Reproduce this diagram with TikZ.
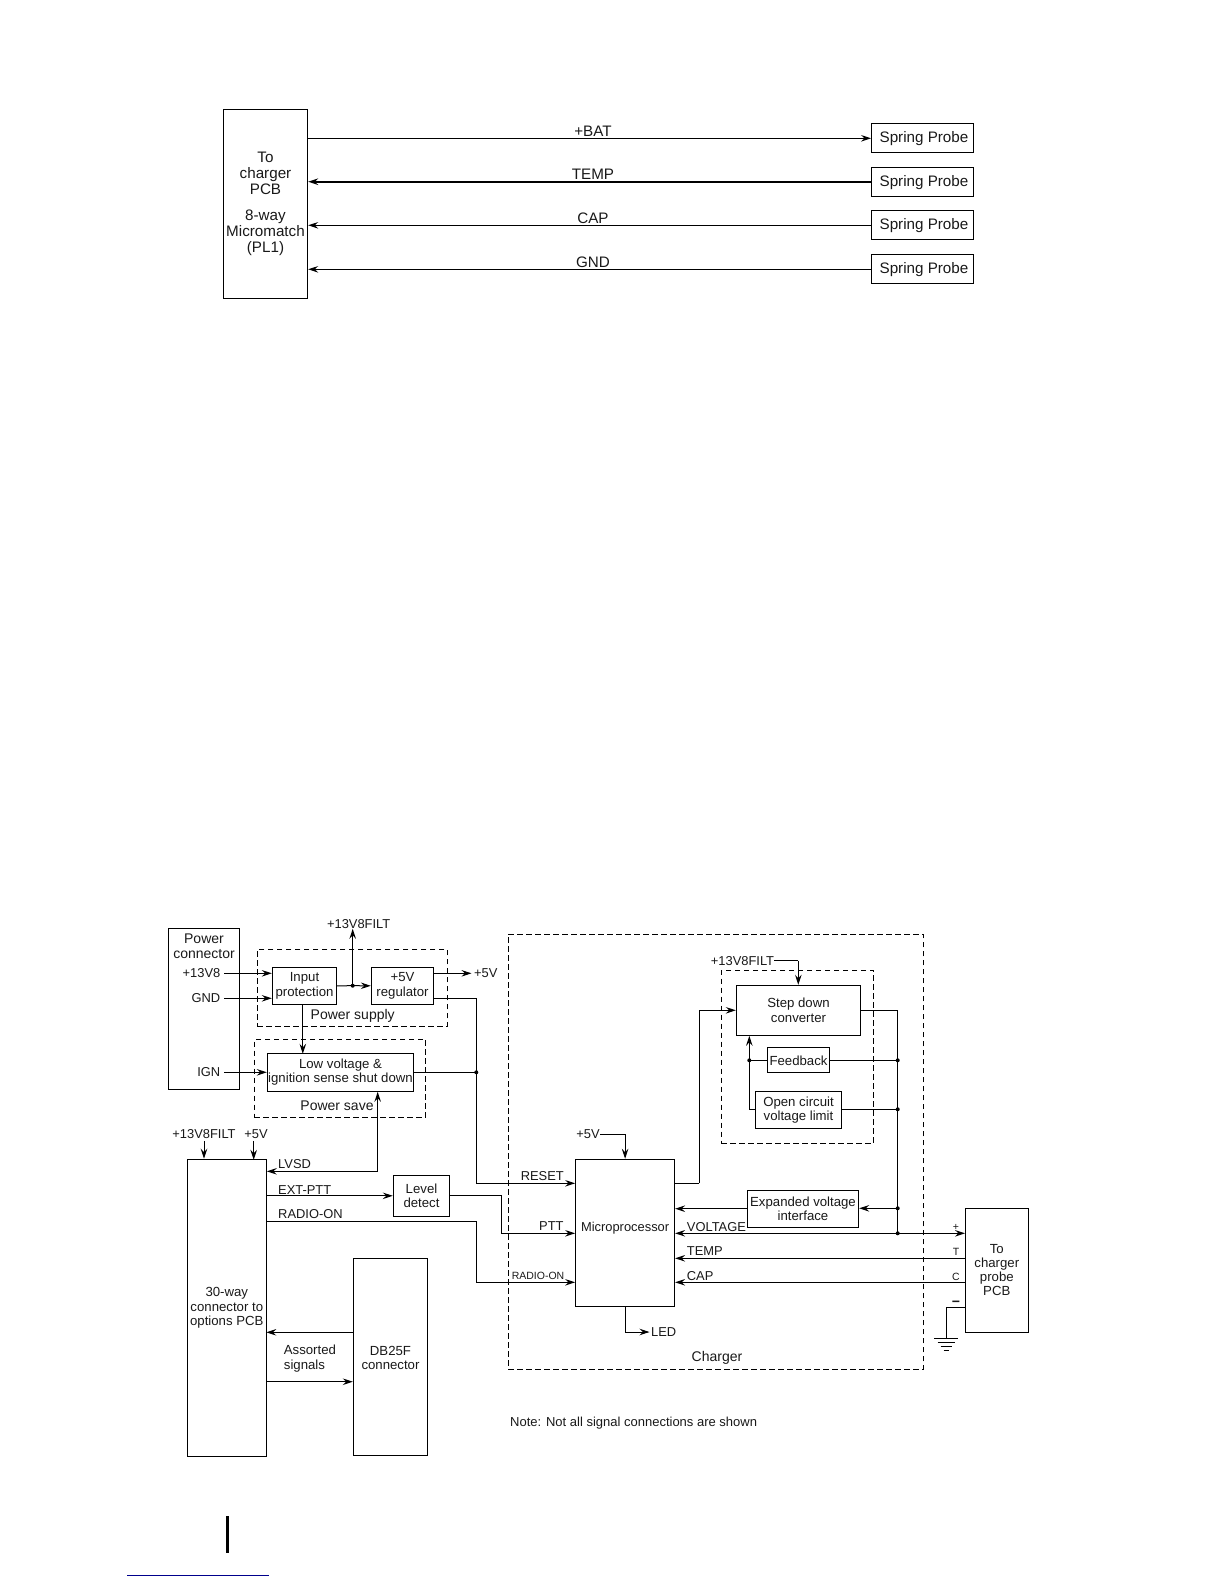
\documentclass[tikz,border=0pt]{standalone}
\usepackage{fontspec}
\setmainfont{Liberation Sans}
\usepackage{tikz}
\usetikzlibrary{arrows.meta}

\begin{document}
\begin{tikzpicture}[
        x=1pt, y=-1pt,
        every node/.style={font=\fontsize{13.2}{14.2}\selectfont, text=black!90},
        box/.style={rectangle, draw, line width=1pt, inner sep=0pt, align=center},
        frame/.style={rectangle, draw, line width=0.9pt, dash pattern=on 5.5pt off 3.5pt},
        lbl/.style={inner sep=0pt, text height=9.2pt, text depth=0pt, font=\fontsize{12.9}{14}\selectfont},
        bigtxt/.style={font=\fontsize{15.2}{16}\selectfont},
        midtxt/.style={font=\fontsize{14}{15}\selectfont},
        smalltxt/.style={font=\fontsize{10.5}{11}\selectfont},
        probe/.style={box, bigtxt, minimum width=101.6pt, minimum height=29pt, text height=11.5pt, text depth=2.5pt, execute at begin node=\hspace*{3pt}},
        dot/.style={circle, fill, inner sep=0pt, minimum size=4pt},
        wire/.style={line width=1pt},
        msg/.style={wire, -{Stealth[length=10pt, width=6.5pt, inset=3.5pt]}},
        bimsg/.style={wire, {Stealth[length=10pt, width=6.5pt, inset=3.5pt]}-{Stealth[length=10pt, width=6.5pt, inset=3.5pt]}}
    ]
    \useasboundingbox (0,0) rectangle (1224,1584);
%
    % Charger PCB connector and probes
    \node[box, bigtxt, minimum width=84.4pt, minimum height=189pt] (micromatch) at (265.5,203.8)
        {To\\charger\\PCB\\[10pt]8-way\\Micromatch\\(PL1)};
    \node[probe, line width=1.3pt] (batprobe) at (922.5,138.3) {Spring Probe};
    \node[probe] (tempprobe) at (922.5,181.7) {Spring Probe};
    \node[probe, line width=1.3pt] (capprobe) at (922.5,225.3) {Spring Probe};
    \node[probe] (gndprobe) at (922.5,269.3) {Spring Probe};
    \draw[msg] (micromatch.east |- batprobe) -- (batprobe.west);
    \draw[msg, line width=1.6pt] (tempprobe.west) -- (micromatch.east |- tempprobe);
    \draw[msg] (capprobe.west) -- (micromatch.east |- capprobe);
    \draw[msg] (gndprobe.west) -- (micromatch.east |- gndprobe);
    \node[lbl, bigtxt] (batlbl) at (593,132) {+BAT};
    \node[lbl, bigtxt] (templbl) at (593,175.2) {TEMP};
    \node[lbl, bigtxt] (caplbl) at (593,219) {CAP};
    \node[lbl, bigtxt] (gndlbl) at (593,262.5) {GND};
%
    % Dashed frames
    \node[frame, minimum width=190pt, minimum height=77pt] (psframe) at (352.3,987.8) {};
    \node[frame, minimum width=171.4pt, minimum height=78pt] (saveframe) at (340,1078.3) {};
    \node[frame, minimum width=415pt, minimum height=435.5pt] (chgframe) at (715.5,1151.7) {};
    \node[frame, minimum width=152.4pt, minimum height=173pt] (stepframe) at (797.5,1056.8) {};
%
    % Blocks
    \node[box, minimum width=71.4pt, minimum height=161pt] (pwrconn) at (204,1008.8) {};
    \node[box, minimum width=64.4pt, minimum height=37pt] (inprot) at (304.5,985.8) {Input\\protection};
    \node[box, minimum width=62.4pt, minimum height=37pt] (reg) at (402.5,985.8) {+5V\\regulator};
    \node[box, minimum width=146.4pt, minimum height=38pt] (lowv) at (340.5,1072.3) {Low voltage \&\\ignition sense shut down};
    \node[box, minimum width=79pt, minimum height=297.4pt] (conn30) at (226.8,1307.9) {30-way\\connector to\\options PCB};
    \node[box, minimum width=56.4pt, minimum height=41pt] (level) at (421.5,1195.8) {Level\\detect};
    \node[box, minimum width=74.4pt, minimum height=197.7pt] (db25) at (390.5,1357.1) {};
    \node[box, minimum width=99pt, minimum height=147.5pt] (micro) at (625.1,1233) {};
    \node[box, minimum width=124.4pt, minimum height=50pt] (stepdn) at (798.5,1010.3) {Step down\\converter};
    \node[box, minimum width=62.4pt, minimum height=25pt] (feedback) at (798.5,1060.3) {Feedback};
    \node[box, minimum width=86.4pt, minimum height=37pt] (ocv) at (798.5,1109.8) {Open circuit\\voltage limit};
    \node[box, minimum width=111.4pt, minimum height=37pt] (expv) at (803,1208.7) {Expanded voltage\\interface};
    \node[box, minimum width=62.6pt, minimum height=124pt] (probepcb) at (996.8,1270.1) {To\\charger\\probe\\PCB};
%
    % Labels
    \node[align=center, midtxt] (pwrlbl) at (204,946) {Power\\connector};
    \node[lbl, anchor=east] (vinlbl) at (220.5,973.3) {+13V8};
    \node[lbl, anchor=east] (gndinlbl) at (220.5,998.3) {GND};
    \node[lbl, anchor=east] (ignlbl) at (220.5,1072.3) {IGN};
    \node[lbl] (filtlbl) at (358.7,924) {+13V8FILT};
    \node[lbl, anchor=west] (fivelbl) at (474,973.3) {+5V};
    \node[lbl, midtxt] (pslbl) at (352.7,1014.7) {Power supply};
    \node[lbl, midtxt] (savelbl) at (337,1106) {Power save};
    \node[lbl] (filtconnlbl) at (204,1134) {+13V8FILT};
    \node[lbl] (fiveconnlbl) at (256,1134) {+5V};
    \node[lbl, anchor=west] (lvsdlbl) at (278,1164.3) {LVSD};
    \node[lbl, anchor=west] (extlbl) at (278,1189.7) {EXT-PTT};
    \node[lbl, anchor=west] (radiolbl) at (278,1214.3) {RADIO-ON};
    \node[align=left, anchor=west, inner sep=0pt] (asslbl) at (283.7,1358.5) {Assorted\\signals};
    \node[align=center, inner sep=0pt] (dblbl) at (390.5,1358) {DB25F\\connector};
    \node[lbl] (filtsteplbl) at (742.5,960.7) {+13V8FILT};
    \node[lbl] (fivemiclbl) at (588,1134) {+5V};
    \node[lbl] (resetlbl) at (542.3,1175.5) {RESET};
    \node[lbl] (pttlbl) at (551.4,1226) {PTT};
    \node[lbl] (microlbl) at (625.1,1226.5) {Microprocessor};
    \node[lbl, smalltxt, text height=7.6pt] (radiomiclbl) at (538,1275.5) {RADIO-ON};
    \node[lbl, anchor=west] (voltlbl) at (686.7,1226.7) {VOLTAGE};
    \node[lbl, anchor=west] (tempmiclbl) at (686.7,1251.3) {TEMP};
    \node[lbl, anchor=west] (capmiclbl) at (686.7,1276) {CAP};
    \node[lbl, smalltxt, text height=7.6pt] (plbl) at (956,1227) {+};
    \node[lbl, smalltxt, text height=7.6pt] (tlbl) at (956,1252) {T};
    \node[lbl, smalltxt, text height=7.6pt] (clbl) at (956,1277) {C};
    \node[font=\fontsize{14}{14}\selectfont\bfseries, inner sep=0pt] (minuslbl) at (956,1304) {−};
    \node[lbl, anchor=west] (ledlbl) at (651,1332) {LED};
    \node[lbl, midtxt] (chglbl) at (717,1356.7) {Charger};
    \node[lbl, anchor=west, font=\fontsize{13}{14}\selectfont] (notelbl) at (510,1422) {Note: Not all signal connections are shown};
%
    % Junctions and bends
    \node[dot] (dotps) at (352.7,985.7) {};
    \node[dot] (dotsv) at (476.3,1072.3) {};
    \node[dot] (dotfbl) at (749.3,1060.3) {};
    \node[dot] (dotfb) at (897.7,1060.3) {};
    \node[dot] (dotoc) at (897.7,1109.3) {};
    \node[dot] (dotex) at (897.7,1208.3) {};
    \node[dot] (dotv) at (897.7,1233.3) {};
    \coordinate (rstbend) at (476.3,1183.3);
    \coordinate (lvsdbend) at (377.7,1171.3);
    \coordinate (pttbend) at (501.3,1233.3);
    \coordinate (rdbendA) at (476.3,1221.3);
    \coordinate (rdbendB) at (476.3,1282.3);
    \coordinate (stepbend) at (699.3,1183.3);
    \coordinate (filtbend) at (798.3,960.7);
    \coordinate (fivebend) at (625.1,1134);
    \coordinate (tempport) at (965.5,1258.3);
    \coordinate (capport) at (965.5,1282.3);
    \coordinate (gndbend) at (946,1307.3);
    \coordinate (gndtop) at (946,1338.3);
    \coordinate (ledbend) at (625.1,1332);
    \coordinate (assA) at (266.3,1332.3);
    \coordinate (assB) at (266.3,1381.7);
%
    % Power connections
    \draw[msg] (vinlbl.east) ++(3.5,0) -- (inprot.west |- vinlbl);
    \draw[msg] (gndinlbl.east) ++(3.5,0) -- (inprot.west |- gndinlbl);
    \draw[msg] (ignlbl.east) ++(3.5,0) -- (lowv.west |- ignlbl);
    \draw[wire] (inprot.east) -- (dotps.center);
    \draw[msg] (dotps.center) -- (reg.west);
    \draw[msg] (dotps.center) -- (dotps |- filtlbl.south);
    \draw[msg] (reg.east |- fivelbl) -- ++(37.3,0);
    \draw[msg] (reg.east |- gndinlbl) -| (rstbend) -- (micro.west |- rstbend);
    \draw[msg] (inprot.south -| lowv.north west) ++(36,0) -- ++(0,49);
    \draw[wire] (lowv.east) -- (dotsv.center);
    \draw[msg] (lvsdbend) -- (lvsdbend |- lowv.south);
    \draw[msg] (lvsdbend) -- (conn30.east |- lvsdbend);
    \draw[msg] (filtconnlbl.south) ++(0,2) -- (filtconnlbl.south |- conn30.north);
    \draw[msg] (fiveconnlbl.south) ++(-2.3,2) -- ++(0,19);
%
    % Signals to the charger
    \draw[msg] (conn30.east |- level.west) -- (level.west);
    \draw[msg] (level.east) -| (pttbend) -- (micro.west |- pttbend);
    \draw[msg] (conn30.east |- rdbendA) -- (rdbendA) -- (rdbendB) -- (micro.west |- rdbendB);
    \draw[msg] (db25.west |- assA) -- (assA);
    \draw[msg] (assB) -- (db25.west |- assB);
%
    % Charger
    \draw[wire] (micro.east |- stepbend) -- (stepbend);
    \draw[msg] (stepbend) |- (stepdn.west);
    \draw[wire] (filtsteplbl.east) -- (filtbend);
    \draw[msg] (filtbend) -- (filtbend |- stepdn.north);
    \draw[wire] (fivemiclbl.east) -- (fivebend);
    \draw[msg] (fivebend) -- (micro.north);
    \draw[wire] (stepdn.east) -| (dotv.center);
    \draw[wire] (feedback.east) -- (dotfb.center);
    \draw[wire] (feedback.west) -- (dotfbl.center);
    \draw[wire] (ocv.east |- dotoc) -- (dotoc.center);
    \draw[msg] (ocv.west |- dotoc) -| (dotfbl |- stepdn.south);
    \draw[msg] (dotex.center) -- (expv.east |- dotex);
    \draw[msg] (expv.west) -- (micro.east |- expv.west);
    \draw[bimsg] (micro.east |- dotv) -- (probepcb.west |- dotv);
    \draw[msg] (tempport) -- (micro.east |- tempport);
    \draw[msg] (capport) -- (micro.east |- capport);
    \draw[msg, shorten >=1.5pt] (micro.south) -- (ledbend) -- (ledlbl.west);
%
    % Ground
    \draw[wire] (probepcb.west |- gndbend) -- (gndbend) -- (gndtop);
    \foreach \w/\d in {12/0, 8.5/4, 5.5/8, 2.5/12.5} {
        \draw[wire] (gndtop) ++(-\w,\d) -- ++(2*\w,0);
    }
%
    % Page marks
    \draw[line width=3pt] (227.5,1516) -- (227.5,1552.7);
    \draw[line width=1pt, color=blue!55!black] (127,1575.3) -- (269,1575.3);
%
    \end{tikzpicture}
\end{document}
